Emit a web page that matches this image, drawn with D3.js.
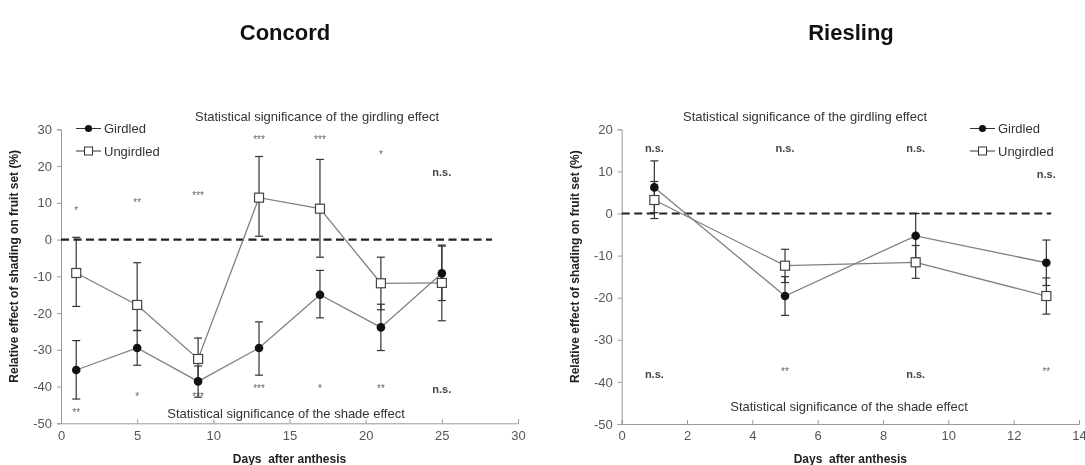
<!DOCTYPE html>
<html>
<head>
<meta charset="utf-8">
<script src="https://cdn.jsdelivr.net/npm/d3@7"></script>
<style>
  body { margin: 0; background: #fff; }
  svg { font-family: Arial, "Liberation Sans", sans-serif; will-change: transform; }
</style>
</head>
<body>
<svg></svg>
<script>
const width = 1085;
const height = 465;

// Concord
const concordDays = [1, 5, 9, 13, 17, 21, 25];
const concordGirdled = [-35.5, -29.5, -38.6, -29.5, -15.0, -23.9, -9.2];
const concordGirdledLo = [-43.4, -34.2, -42.9, -36.9, -21.3, -30.2, -16.6];
const concordGirdledHi = [-27.5, -24.7, -34.4, -22.4, -8.4, -17.6, -1.8];
const concordUngirdled = [-9.1, -17.8, -32.5, 11.4, 8.4, -11.9, -11.8];
const concordUngirdledLo = [-18.2, -24.8, -38.2, 0.9, -4.8, -19.1, -22.1];
const concordUngirdledHi = [0.6, -6.3, -26.8, 22.6, 21.8, -4.8, -1.5];
const concordGirdSig = ["*", "**", "***", "***", "***", "*", "n.s."];
const concordGirdSigY = [8.5, 10.7, 12.7, 28, 28, 23.8, 18.1];
const concordShadeSig = ["**", "*", "***", "***", "*", "**", "n.s."];
const concordShadeSigY = [-46.5, -42, -42, -39.8, -39.8, -39.8, -40.9];

// Riesling
const rieslingDays = [1, 5, 9, 13];
const rieslingGirdled = [6.2, -19.6, -5.3, -11.7];
const rieslingGirdledLo = [0.2, -24.2, -10.5, -17.1];
const rieslingGirdledHi = [12.5, -15.0, 0, -6.3];
const rieslingUngirdled = [3.2, -12.4, -11.6, -19.6];
const rieslingUngirdledLo = [-1.2, -16.4, -15.4, -23.9];
const rieslingUngirdledHi = [7.6, -8.5, -7.6, -15.3];
const rieslingGirdSig = ["n.s.", "n.s.", "n.s.", "n.s."];
const rieslingGirdSigY = [15.5, 15.5, 15.5, 9.1];
const rieslingShadeSig = ["n.s.", "**", "n.s.", "**"];
const rieslingShadeSigY = [-38.2, -37, -38.2, -37];

const svg = d3.select("svg")
  .attr("width", width)
  .attr("height", height);

function drawPanel(cfg) {
  const x = d3.scaleLinear().domain(cfg.xDomain).range([cfg.left, cfg.left + cfg.w]);
  const y = d3.scaleLinear().domain(cfg.yDomain).range([cfg.top + cfg.h, cfg.top]);
  const g = svg.append("g");

  // title
  g.append("text")
    .attr("x", cfg.titleX).attr("y", 40)
    .attr("text-anchor", "middle")
    .attr("font-size", 22).attr("font-weight", "bold").attr("fill", "#111")
    .text(cfg.title);

  // axes (plain hyphen for negatives, like the original)
  const fmt = d => String(d);
  const yAxis = g.append("g")
    .attr("transform", `translate(${cfg.left},0)`)
    .call(d3.axisLeft(y).tickValues(cfg.yTicks).tickFormat(fmt).tickSize(4).tickPadding(5));
  const xAxis = g.append("g")
    .attr("transform", `translate(0,${cfg.top + cfg.h})`)
    .call(d3.axisBottom(x).tickValues(cfg.xTicks).tickFormat(fmt).tickSize(-4).tickPadding(7));
  [yAxis, xAxis].forEach(a => {
    a.select(".domain").attr("stroke", "#999");
    a.selectAll(".tick line").attr("stroke", "#999");
    a.selectAll(".tick text").attr("fill", "#555").attr("font-size", 13)
      .attr("font-family", "Arial, 'Liberation Sans', sans-serif");
  });

  // axis labels
  g.append("text")
    .attr("transform", `translate(${cfg.left - 43},${cfg.top + cfg.h / 2 - 10}) rotate(-90)`)
    .attr("text-anchor", "middle")
    .attr("font-size", 12).attr("font-weight", "bold").attr("fill", "#222")
    .text("Relative effect of shading on fruit set (%)");
  g.append("text")
    .attr("x", x((cfg.xDomain[0] + cfg.xDomain[1]) / 2)).attr("y", 463)
    .attr("text-anchor", "middle")
    .attr("font-size", 12).attr("font-weight", "bold").attr("fill", "#222")
    .attr("xml:space", "preserve")
    .text("Days  after anthesis");

  // zero dashed line
  g.append("line")
    .attr("x1", x(0)).attr("x2", x(cfg.dashEnd))
    .attr("y1", y(0)).attr("y2", y(0))
    .attr("stroke", "#222").attr("stroke-width", 2.2)
    .attr("stroke-dasharray", "8,4.5");

  // significance captions
  g.append("text")
    .attr("x", cfg.girdCapX).attr("y", 121)
    .attr("text-anchor", "middle").attr("font-size", 13).attr("fill", "#333")
    .text("Statistical significance of the girdling effect");
  g.append("text")
    .attr("x", cfg.shadeCapX).attr("y", cfg.shadeCapY)
    .attr("text-anchor", "middle").attr("font-size", 13).attr("fill", "#333")
    .text("Statistical significance of the shade effect");

  const sigLabel = (labels, ys) => {
    labels.forEach((s, i) => {
      const ns = s === "n.s.";
      g.append("text")
        .attr("x", x(cfg.days[i])).attr("y", y(ys[i]))
        .attr("dy", ns ? "0.3em" : "0.6em")
        .attr("text-anchor", "middle")
        .attr("font-size", ns ? 11 : 10)
        .attr("font-weight", ns ? "bold" : "normal")
        .attr("fill", ns ? "#444" : "#666")
        .text(s);
    });
  };
  sigLabel(cfg.girdSig, cfg.girdSigY);
  sigLabel(cfg.shadeSig, cfg.shadeSigY);

  const series = [
    { vals: cfg.ung, lo: cfg.ungLo, hi: cfg.ungHi, type: "square" },
    { vals: cfg.gird, lo: cfg.girdLo, hi: cfg.girdHi, type: "circle" }
  ];

  const line = d3.line().x(d => x(d[0])).y(d => y(d[1]));
  series.forEach(s => {
    g.append("path")
      .datum(cfg.days.map((d, i) => [d, s.vals[i]]))
      .attr("d", line)
      .attr("fill", "none").attr("stroke", "#808080").attr("stroke-width", 1.3);
  });

  series.forEach(s => {
    const eb = g.append("g").attr("stroke", "#333").attr("stroke-width", 1.2);
    cfg.days.forEach((d, i) => {
      eb.append("line").attr("x1", x(d)).attr("x2", x(d))
        .attr("y1", y(s.lo[i])).attr("y2", y(s.hi[i]));
      [s.lo[i], s.hi[i]].forEach(v => {
        eb.append("line").attr("x1", x(d) - 4).attr("x2", x(d) + 4)
          .attr("y1", y(v)).attr("y2", y(v));
      });
    });
  });

  series.forEach(s => {
    cfg.days.forEach((d, i) => {
      if (s.type === "circle") {
        g.append("circle").attr("cx", x(d)).attr("cy", y(s.vals[i])).attr("r", 4.3)
          .attr("fill", "#111");
      } else {
        g.append("rect").attr("x", x(d) - 4.5).attr("y", y(s.vals[i]) - 4.5)
          .attr("width", 9).attr("height", 9)
          .attr("fill", "#fff").attr("stroke", "#444").attr("stroke-width", 1.2);
      }
    });
  });

  // legend
  const leg = g.append("g").attr("transform", `translate(${cfg.legX},128.5)`);
  [["Girdled", "circle"], ["Ungirdled", "square"]].forEach((it, i) => {
    const row = leg.append("g").attr("transform", `translate(0,${i * 22.5})`);
    row.append("line").attr("x1", 0).attr("x2", 25).attr("stroke", "#333").attr("stroke-width", 1);
    if (it[1] === "circle") {
      row.append("circle").attr("cx", 12.5).attr("r", 3.6).attr("fill", "#111");
    } else {
      row.append("rect").attr("x", 8.5).attr("y", -4).attr("width", 8).attr("height", 8)
        .attr("fill", "#fff").attr("stroke", "#333");
    }
    row.append("text").attr("x", 28).attr("y", 4.5)
      .attr("font-size", 13).attr("fill", "#333").text(it[0]);
  });
}

drawPanel({
  title: "Concord", titleX: 285,
  left: 61, w: 457, top: 129.3, h: 294,
  xDomain: [0, 30], yDomain: [-50, 30],
  xTicks: [0, 5, 10, 15, 20, 25, 30], yTicks: [-50, -40, -30, -20, -10, 0, 10, 20, 30],
  dashEnd: 28.3,
  days: concordDays,
  gird: concordGirdled, girdLo: concordGirdledLo, girdHi: concordGirdledHi,
  ung: concordUngirdled, ungLo: concordUngirdledLo, ungHi: concordUngirdledHi,
  girdSig: concordGirdSig, girdSigY: concordGirdSigY,
  shadeSig: concordShadeSig, shadeSigY: concordShadeSigY,
  girdCapX: 317, shadeCapX: 286, shadeCapY: 418,
  legX: 76
});

drawPanel({
  title: "Riesling", titleX: 851,
  left: 621.7, w: 457.3, top: 129.3, h: 294.7,
  xDomain: [0, 14], yDomain: [-50, 20],
  xTicks: [0, 2, 4, 6, 8, 10, 12, 14], yTicks: [-50, -40, -30, -20, -10, 0, 10, 20],
  dashEnd: 13.15,
  days: rieslingDays,
  gird: rieslingGirdled, girdLo: rieslingGirdledLo, girdHi: rieslingGirdledHi,
  ung: rieslingUngirdled, ungLo: rieslingUngirdledLo, ungHi: rieslingUngirdledHi,
  girdSig: rieslingGirdSig, girdSigY: rieslingGirdSigY,
  shadeSig: rieslingShadeSig, shadeSigY: rieslingShadeSigY,
  girdCapX: 805, shadeCapX: 849, shadeCapY: 411,
  legX: 970
});
</script>
</body>
</html>
